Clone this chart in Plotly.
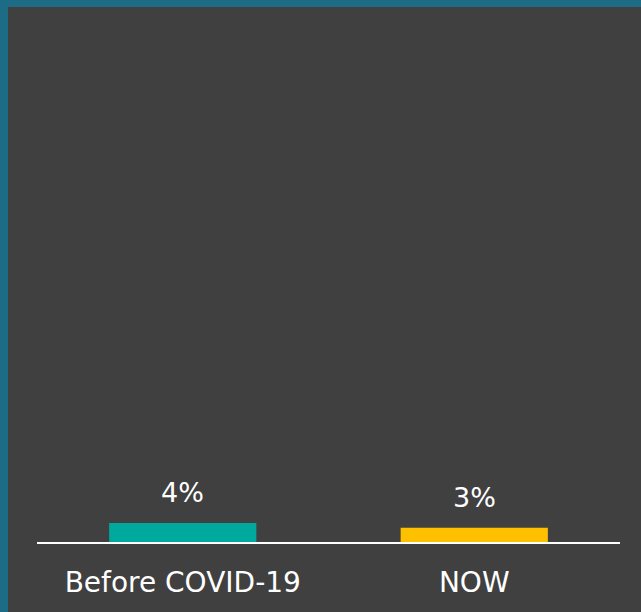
import plotly.graph_objects as go

categories = ["Before COVID-19", "NOW"]
values = [4, 3]
bar_colors = ["#00A99D", "#FFC000"]
value_labels = ["4%", "3%"]

W, H = 641, 612
ML, MR, MT, MB = 37, 21, 7, 70
PW, PH = W - ML - MR, H - MT - MB

def px_x(p):
    return (p - ML) / PW

def px_y(p):
    return (H - MB - p) / PH

fig = go.Figure()
fig.add_trace(go.Bar(
    x=categories, y=values, marker_color=bar_colors, marker_line_width=0,
    width=0.505, hoverinfo="skip",
))

for c, v, t in zip(categories, values, value_labels):
    fig.add_annotation(x=c, y=v, text=t, showarrow=False, yanchor="bottom",
                       yshift=13, font=dict(family="DejaVu Sans", size=27, color="white"))

border = "#1b6c84"
fig.add_shape(type="rect", xref="paper", yref="paper", layer="above",
              x0=px_x(0), x1=px_x(8), y0=px_y(H), y1=px_y(0),
              fillcolor=border, line_width=0)
fig.add_shape(type="rect", xref="paper", yref="paper", layer="above",
              x0=px_x(0), x1=px_x(W), y0=px_y(7), y1=px_y(0),
              fillcolor=border, line_width=0)

fig.update_layout(
    width=W, height=H,
    margin=dict(l=ML, r=MR, t=MT, b=MB, pad=0),
    paper_bgcolor="#404040", plot_bgcolor="#404040",
    showlegend=False,
    bargap=0.495,
    font=dict(family="DejaVu Sans", color="white"),
    xaxis=dict(showline=True, linecolor="white", linewidth=2, showgrid=False,
               ticks="", tickfont=dict(size=28, color="white"), zeroline=False,
               ticklabelstandoff=14),
    yaxis=dict(range=[0, 113], visible=False, showgrid=False, zeroline=False),
)

fig.write_html("out.html", config={"displayModeBar": False},
               post_script="document.body.style.margin='0';document.body.style.padding='0';")
